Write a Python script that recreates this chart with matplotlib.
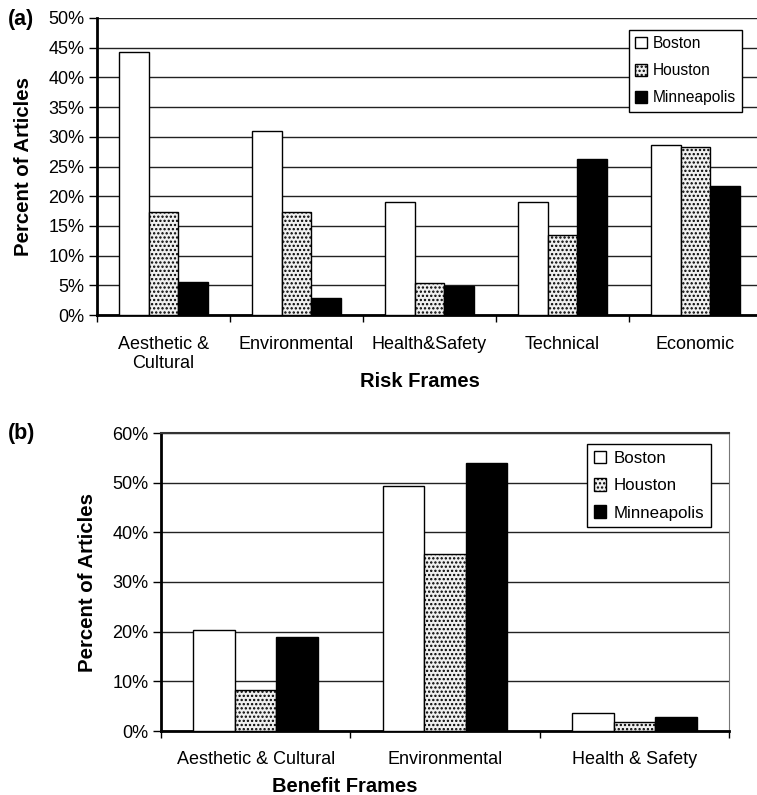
import matplotlib
matplotlib.use("Agg")
import matplotlib.pyplot as plt
import numpy as np
from matplotlib.ticker import FuncFormatter, MultipleLocator, FixedLocator

plt.rcParams['font.family'] = ['Liberation Sans', 'DejaVu Sans']
plt.rcParams['hatch.color'] = '#555555'
plt.rcParams['hatch.linewidth'] = 1.1

series = ["Boston", "Houston", "Minneapolis"]

risk_cats = ["Aesthetic &\nCultural", "Environmental", "Health&Safety", "Technical", "Economic"]
risk_boston = [44.3, 30.9, 19.1, 19.1, 28.6]
risk_houston = [17.3, 17.3, 5.4, 13.5, 28.2]
risk_minneapolis = [5.5, 2.8, 4.9, 26.3, 21.7]

benefit_cats = ["Aesthetic & Cultural", "Environmental", "Health & Safety"]
benefit_boston = [20.3, 49.4, 3.7]
benefit_houston = [8.2, 35.7, 1.9]
benefit_minneapolis = [18.9, 54.0, 2.8]

styles = [dict(facecolor='white', hatch=None),
          dict(facecolor='#f0f0f0', hatch='....'),
          dict(facecolor='black', hatch=None)]

W, H = 757, 795
fig = plt.figure(figsize=(W/100, H/100), dpi=100)

def px_axes(l, t, r, b):
    return fig.add_axes([l/W, 1 - b/H, (r-l)/W, (b-t)/H])

pct = FuncFormatter(lambda v, p: f"{v:.0f}%")

def draw(ax, cats, vals, width, ymax, ystep, xlabel, legend_bbox, right_spine, xpad,
         legfs, legspace):
    n = len(cats)
    x = np.arange(n) + 0.5
    for i, (s, v) in enumerate(zip(series, vals)):
        st = styles[i]
        ax.bar(x + (i-1)*width, v, width, facecolor=st['facecolor'], hatch=st['hatch'],
               edgecolor='black', linewidth=1.0, label=s, zorder=3)
    ax.set_xlim(0, n)
    ax.set_ylim(0, ymax)
    ax.yaxis.set_major_locator(MultipleLocator(ystep))
    ax.yaxis.set_major_formatter(pct)
    ax.grid(axis='y', color='#222222', linewidth=1.0, zorder=0)
    ax.set_axisbelow(True)
    ax.xaxis.set_major_locator(FixedLocator(x))
    ax.set_xticklabels(cats, fontsize=13, linespacing=1.15)
    ax.xaxis.set_minor_locator(FixedLocator(np.arange(n+1)))
    ax.tick_params(axis='x', which='major', length=0, pad=xpad)
    ax.tick_params(axis='x', which='minor', length=5, width=1, direction='out')
    ax.tick_params(axis='y', length=6, width=1, labelsize=13, pad=3)
    for sp in ['left', 'bottom']:
        ax.spines[sp].set_linewidth(2)
        ax.spines[sp].set_color('black')
    ax.spines['top'].set_visible(right_spine)
    ax.spines['top'].set_color('#333333')
    ax.spines['top'].set_linewidth(1.5)
    ax.spines['right'].set_visible(right_spine)
    ax.spines['right'].set_color('#777777')
    ax.set_ylabel("Percent of Articles", fontsize=14.7, fontweight='bold')
    ax.set_xlabel(xlabel, fontsize=14.5, fontweight='bold')
    leg = ax.legend(loc='upper left', bbox_to_anchor=legend_bbox, fontsize=legfs,
                    frameon=True, fancybox=False, edgecolor='black', framealpha=1,
                    handlelength=0.75, handleheight=0.75, handletextpad=0.4,
                    borderpad=0.4, labelspacing=legspace, borderaxespad=0)
    leg.get_frame().set_linewidth(1.0)
    return ax

ax1 = px_axes(97, 18, 762, 315)
draw(ax1, risk_cats, [risk_boston, risk_houston, risk_minneapolis], 0.225, 50, 5,
     "Risk Frames", ((629-97)/665, (315-30)/297), False, 15, 11.2, 0.78)
ax1.yaxis.set_label_coords(-0.096, 0.5)
ax1.xaxis.set_label_coords((420-97)/665, -0.192)

ax2 = px_axes(161, 433, 729, 731)
draw(ax2, benefit_cats, [benefit_boston, benefit_houston, benefit_minneapolis], 0.22, 60, 10,
     "Benefit Frames", ((587-161)/568, (731-444)/298), True, 14.5, 12.2, 0.72)
ax2.yaxis.set_label_coords(-0.113, 0.5)
ax2.xaxis.set_label_coords((345-161)/568, -0.155)

fig.text(8/W, 1 - 20/H, "(a)", fontsize=15.5, fontweight='bold', va='center', ha='left')
fig.text(8/W, 1 - 433/H, "(b)", fontsize=15.5, fontweight='bold', va='center', ha='left')

fig.savefig("out.png", dpi=100)
